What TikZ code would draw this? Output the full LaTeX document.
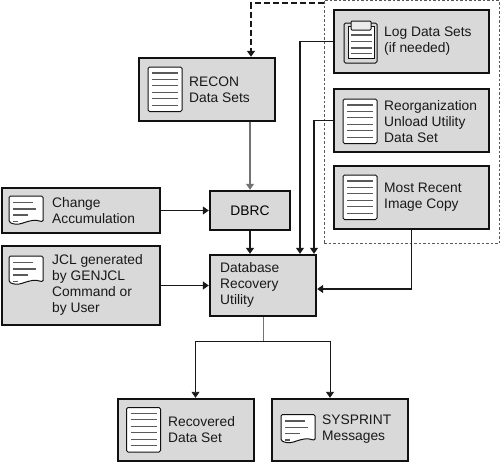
\documentclass[tikz,border=0pt]{standalone}
\usepackage{fontspec}
\setmainfont{Liberation Sans}
\usetikzlibrary{arrows.meta}
\definecolor{boxgray}{HTML}{D9D9D9}
\definecolor{boxedge}{HTML}{111111}
\definecolor{rulegray}{HTML}{5A5A5A}
\tikzset{
  docicon/.pic={
    \draw[boxedge, fill=white, line width=1pt, rounded corners=1.5pt] (0,0) rectangle (34,44.5);
    \foreach \y in {6,12.4,18.9,25.3,31.8,38.2}
      \draw[rulegray, line width=1.1pt] (4,\y) -- (30,\y);
  },
  noteicon/.pic={
    \draw[boxedge, fill=white, line width=1pt, rounded corners=1.5pt] (0,0) -- (34,0) -- (34,26)
      .. controls (26,23) and (20,25) .. (14,27) .. controls (8,29) and (4,28) .. (0,26) -- cycle;
    \draw[rulegray, line width=1.1pt] (4,6.5) -- (24,6.5) (4,13) -- (27,13) (4,19) -- (19,19);
    \draw[rulegray, line width=1.1pt] (4,25.5) -- (9,25.5);
  },
  clipicon/.pic={
    \draw[boxedge, fill=boxgray, line width=1pt, rounded corners=1.5pt] (0,0) rectangle (33,40);
    \draw[boxedge, fill=white, line width=1pt] (4,3) rectangle (30,35);
    \foreach \y in {12,18.5,25,30.5}
      \draw[rulegray, line width=1.1pt] (7,\y) -- (28,\y);
    \draw[boxedge, fill=black!8, line width=1pt, rounded corners=1pt] (7,-2) rectangle (27,7);
  }
}
\begin{document}
\begin{tikzpicture}[
  x=1pt, y=-1pt,
  box/.style 2 args={draw=boxedge, fill=boxgray, line width=2.4pt, minimum width=#1, minimum height=#2, font=\fontsize{13.8}{16}\selectfont},
  label/.style={anchor=west, align=left, inner sep=0pt, font=\fontsize{13.8}{16}\selectfont, text=black!90},
  flow/.style={draw=black!90, line width=1.1pt, -{Triangle[length=6pt, width=8pt]}}
]
  \useasboundingbox (0,0) rectangle (500,463);

  \node[draw=black!65, dash pattern=on 2.5pt off 2pt, line width=0.7pt, minimum width=175pt, minimum height=243pt, inner sep=0pt] (group) at (411.5,122) {};

  \node[box={155}{63}] (log) at (411.5,41.5) {};
  \node[box={155}{63}] (reorg) at (411.5,120.5) {};
  \node[box={155}{63}] (recent) at (411.5,197.5) {};
  \node[box={136}{63}] (recon) at (207,89.5) {};
  \node[box={80}{39}] (dbrc) at (250,210.5) {DBRC};
  \node[box={158}{45}] (change) at (81,210.5) {};
  \node[box={158}{79}] (jcl) at (81,285.5) {};
  \node[box={106}{61}] (recovery) at (263,285.5) {};
  \node[box={136}{62}] (recovered) at (186,430) {};
  \node[box={136}{62}] (sysprint) at (340,430) {};
  \coordinate (split) at (263,341.5);

  \pic at (344,23) {clipicon};
  \pic at (343,99) {docicon};
  \pic at (343,175) {docicon};
  \pic at (148,67) {docicon};
  \pic at (9,196) {noteicon};
  \pic at (9,256) {noteicon};
  \pic at (126.5,407.5) {docicon};
  \pic at (281,414.5) {noteicon};

  \node[label] (logtext) at (384,41) {Log Data Sets\\(if needed)};
  \node[label] (reorgtext) at (384,122) {Reorganization\\Unload Utility\\Data Set};
  \node[label] (recenttext) at (384,197) {Most Recent\\Image Copy};
  \node[label] (recontext) at (189,90) {RECON\\Data Sets};
  \node[label] (changetext) at (52,211) {Change\\Accumulation};
  \node[label] (jcltext) at (52,285) {JCL generated\\by GENJCL\\Command or\\by User};
  \node[label] (recoverytext) at (220,285) {Database\\Recovery\\Utility};
  \node[label] (recoveredtext) at (168,430) {Recovered\\Data Set};
  \node[label] (sysprinttext) at (322,429) {SYSPRINT\\Messages};

  \draw[flow, dash pattern=on 6pt off 3pt, line width=1.6pt] ([yshift=-3pt]group.north west) -| ([xshift=44pt]recon.north);
  \draw[flow, draw=black!55] ([xshift=43pt]recon.south) -- (dbrc.north);
  \draw[flow] (change.east) -- (dbrc.west);
  \draw[flow, line width=1.3pt] (jcl.east) -- (recovery.west);
  \draw[flow, line width=1.3pt] (dbrc.south) -- (recovery.north -| dbrc.south);
  \draw[flow] (log.west) -| ([xshift=37pt]recovery.north);
  \draw[flow] (reorg.west) -| ([xshift=51pt]recovery.north);
  \draw[flow, line width=1.3pt] (recent.south) |- ([yshift=-3.5pt]recovery.east);
  \draw[draw=black!55, line width=1pt] (recovery.south) -- (split);
  \draw[flow, line width=0.9pt] (split) -| ([xshift=9.5pt]recovered.north);
  \draw[flow, line width=0.9pt] (split) -| ([xshift=-10pt]sysprint.north);
\end{tikzpicture}
\end{document}
